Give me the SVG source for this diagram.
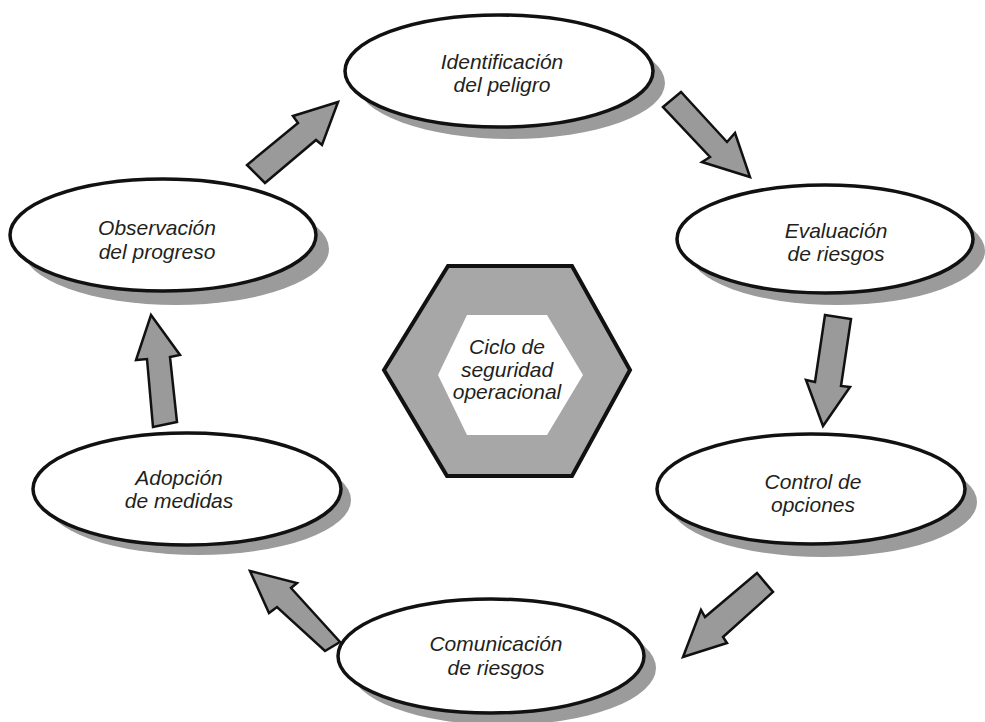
<svg xmlns="http://www.w3.org/2000/svg" width="985" height="722" viewBox="0 0 985 722">
<style>
.bg{fill:#ffffff}
.shadow{fill:#9b9b9b}
.ell{fill:#ffffff;stroke:#111;stroke-width:3.5}
.arrow{fill:#9a9a9a;stroke:#111;stroke-width:2.5;stroke-linejoin:miter}
.lbl{font-family:"Liberation Sans",Arial,sans-serif;font-style:italic;font-size:21px;fill:#231f20;text-anchor:middle}
</style>
<rect class="bg" x="0" y="0" width="985" height="722"/>
<g id="connectors">
<polygon class="arrow" points="663,107 681,92 727,142 735,133 750,177 702,162 710,157"/>
<polygon class="arrow" points="825,315 851,319 841,386 850,387 823,426 806,380 815,382"/>
<polygon class="arrow" points="757,573 773,592 723,637 727,643 683,657 701,610 705,617"/>
<polygon class="arrow" points="250,571 297,583 291,588 340,642 325,651 277,607 269,613"/>
<polygon class="arrow" points="151,315 180,355 170,357 177,422 153,427 147,359 136,360"/>
<polygon class="arrow" points="338,102 322,145 316,140 265,183 247,165 298,123 293,116"/>
</g>
<g id="node-center">
<polygon points="448,266 572,266 630,370 572,476 447,476 384,370" fill="#a7a7a7" stroke="#111" stroke-width="4"/>
<polygon points="467,315 547,315 583,375 547,435 467,435 438,375" fill="#ffffff"/>
<text class="lbl" x="507" y="354">Ciclo de</text>
<text class="lbl" x="507" y="377">seguridad</text>
<text class="lbl" x="507" y="399">operacional</text>
</g>
<g id="node-identificacion">
<ellipse class="shadow" cx="511" cy="83" rx="154" ry="56"/>
<ellipse class="ell" cx="499" cy="71" rx="154" ry="56"/>
<text class="lbl" x="502" y="69">Identificación</text>
<text class="lbl" x="502" y="92">del peligro</text>
</g>
<g id="node-evaluacion">
<ellipse class="shadow" cx="837" cy="251" rx="148" ry="54"/>
<ellipse class="ell" cx="825" cy="239" rx="148" ry="54"/>
<text class="lbl" x="836" y="238">Evaluación</text>
<text class="lbl" x="836" y="261">de riesgos</text>
</g>
<g id="node-control">
<ellipse class="shadow" cx="823" cy="502" rx="154" ry="55"/>
<ellipse class="ell" cx="811" cy="489" rx="154" ry="55"/>
<text class="lbl" x="813" y="489">Control de</text>
<text class="lbl" x="813" y="512">opciones</text>
</g>
<g id="node-comunicacion">
<ellipse class="shadow" cx="503" cy="668" rx="153" ry="57"/>
<ellipse class="ell" cx="491" cy="656" rx="153" ry="57"/>
<text class="lbl" x="496" y="651">Comunicación</text>
<text class="lbl" x="496" y="675">de riesgos</text>
</g>
<g id="node-adopcion">
<ellipse class="shadow" cx="198" cy="500" rx="153" ry="55"/>
<ellipse class="ell" cx="187" cy="489" rx="154" ry="56"/>
<text class="lbl" x="179" y="485">Adopción</text>
<text class="lbl" x="179" y="508">de medidas</text>
</g>
<g id="node-observacion">
<ellipse class="shadow" cx="176" cy="249" rx="153" ry="56"/>
<ellipse class="ell" cx="163" cy="235" rx="153" ry="56"/>
<text class="lbl" x="157" y="235">Observación</text>
<text class="lbl" x="157" y="259">del progreso</text>
</g>
</svg>
